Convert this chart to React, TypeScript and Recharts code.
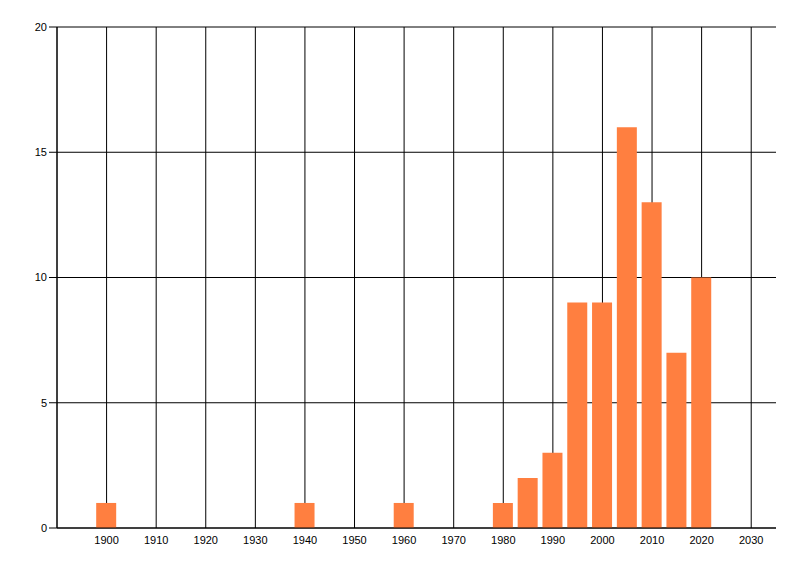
import React from 'react';
import { BarChart, Bar, XAxis, YAxis, CartesianGrid } from 'recharts';

// years (bar centres) and counts
const years = [1900, 1940, 1960, 1980, 1985, 1990, 1995, 2000, 2005, 2010, 2015, 2020];
const counts = [1, 1, 1, 1, 2, 3, 9, 9, 16, 13, 7, 10];

const xTicks = [1900, 1910, 1920, 1930, 1940, 1950, 1960, 1970, 1980, 1990, 2000, 2010, 2020, 2030];
const yTicks = [0, 5, 10, 15, 20];
const xDomain = [1890, 2035];

const data = years.map((year, i) => ({ year, count: counts[i] }));

const tickStyle = { fill: '#000', fontSize: 11, fontFamily: '"Liberation Sans", Arial, sans-serif' };

// only draw vertical grid lines at the tick years (no line on the right edge)
const verticalLines = (props: any) => {
  const off = props?.offset;
  if (!off) return [];
  const span = xDomain[1] - xDomain[0];
  return [xDomain[0], ...xTicks].map(t => off.left + ((t - xDomain[0]) / span) * off.width);
};

export default function App() {
  return (
    <div style={{ position: 'absolute', left: 0, top: 0, width: 800, height: 576, background: '#fff' }}>
      <BarChart
        width={800}
        height={576}
        data={data}
        margin={{ top: 27, right: 24, bottom: 18, left: 0 }}
      >
        <CartesianGrid stroke="#000" strokeWidth={1} verticalCoordinatesGenerator={verticalLines} />
        <XAxis
          dataKey="year"
          type="number"
          domain={xDomain}
          ticks={xTicks}
          interval={0}
          height={30}
          tickLine={false}
          axisLine={{ stroke: '#000' }}
          tick={tickStyle}
        />
        <YAxis
          type="number"
          domain={[0, 20]}
          ticks={yTicks}
          width={57}
          tickSize={8}
          tickMargin={2}
          tickLine={{ stroke: '#000' }}
          axisLine={{ stroke: '#000' }}
          tick={tickStyle}
        />
        <Bar dataKey="count" fill="#FF7F40" barSize={20} isAnimationActive={false} />
      </BarChart>
    </div>
  );
}
